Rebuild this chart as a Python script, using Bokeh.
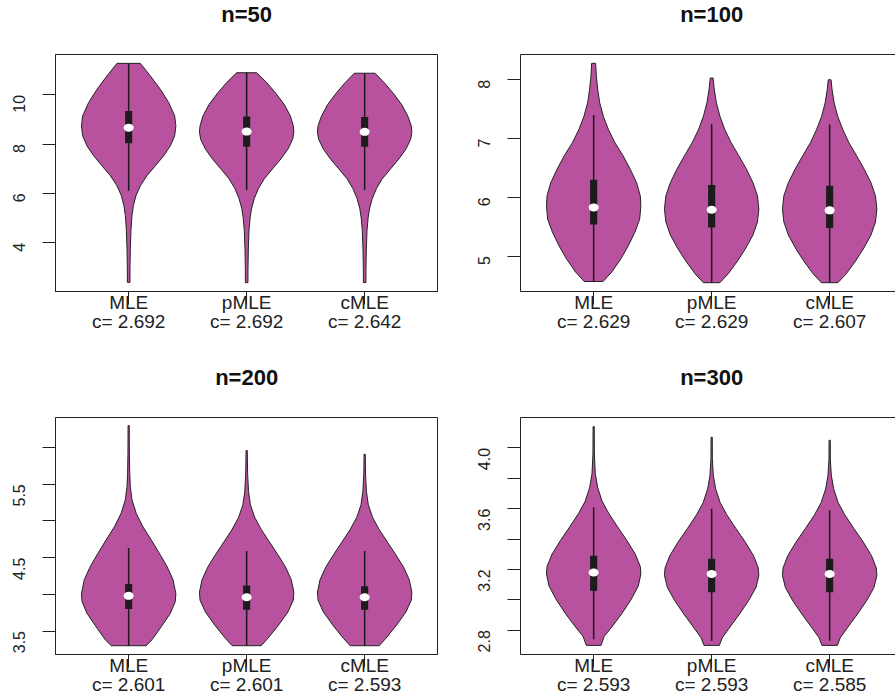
import math
from bokeh.plotting import figure
from bokeh.layouts import row, column
from bokeh.models import FixedTicker, Range1d, LinearAxis
from bokeh.core.properties import value
from bokeh.embed import file_html
from bokeh.resources import INLINE

# ---------------- data ----------------
methods = ["MLE", "pMLE", "cMLE"]
positions = [1, 2, 3]
titles = ["n=50", "n=100", "n=200", "n=300"]

c_n50 = [2.692, 2.692, 2.642]
c_n100 = [2.629, 2.629, 2.607]
c_n200 = [2.601, 2.601, 2.593]
c_n300 = [2.593, 2.593, 2.585]

# y ranges and ticks
ylim_n50 = (2.02, 11.64)
ylim_n100 = (4.40, 8.43)
ylim_n200 = (3.18, 6.41)
ylim_n300 = (2.64, 4.20)
ticks_n50 = [4, 6, 8, 10]
ticks_n100 = [5, 6, 7, 8]
ticks_n200 = [3.5, 4.0, 4.5, 5.0, 5.5, 6.0]
ticks_n300 = [2.8, 3.0, 3.2, 3.4, 3.6, 3.8, 4.0]
labels_n50 = ["4", "6", "8", "10"]
labels_n100 = ["5", "6", "7", "8"]
labels_n200 = ["3.5", "", "4.5", "", "5.5", ""]
labels_n300 = ["2.8", "", "3.2", "", "3.6", "", "4.0"]

# box statistics (lower whisker, q1, median, q3, upper whisker)
lo_n50 = [6.11, 6.14, 6.14]
q1_n50 = [8.04, 7.90, 7.90]
med_n50 = [8.67, 8.51, 8.50]
q3_n50 = [9.35, 9.12, 9.10]
hi_n50 = [11.28, 10.90, 10.88]

lo_n100 = [4.57, 4.55, 4.55]
q1_n100 = [5.54, 5.49, 5.48]
med_n100 = [5.83, 5.79, 5.78]
q3_n100 = [6.30, 6.21, 6.20]
hi_n100 = [7.40, 7.25, 7.24]

lo_n200 = [3.30, 3.30, 3.30]
q1_n200 = [3.80, 3.79, 3.79]
med_n200 = [3.98, 3.96, 3.96]
q3_n200 = [4.14, 4.12, 4.11]
hi_n200 = [4.63, 4.59, 4.59]

lo_n300 = [2.74, 2.73, 2.73]
q1_n300 = [3.06, 3.05, 3.05]
med_n300 = [3.18, 3.17, 3.17]
q3_n300 = [3.29, 3.27, 3.27]
hi_n300 = [3.61, 3.60, 3.59]

# violin density profiles: values (top to bottom) and half widths
n50_mle_y = [11.28, 10.77, 10.23, 9.69, 9.15, 8.74, 8.34, 7.93, 7.53, 7.12, 6.72, 6.31, 5.91, 5.50, 5.10, 4.56, 3.75, 2.93, 2.39]
n50_mle_w = [0.099, 0.184, 0.268, 0.339, 0.390, 0.400, 0.390, 0.353, 0.297, 0.226, 0.155, 0.099, 0.062, 0.040, 0.028, 0.020, 0.014, 0.011, 0.011]
n50_pmle_y = [10.90, 10.50, 10.05, 9.60, 9.15, 8.75, 8.50, 8.20, 7.80, 7.40, 7.00, 6.60, 6.20, 5.80, 5.40, 5.00, 4.50, 3.70, 2.90, 2.38]
n50_pmle_w = [0.085, 0.170, 0.250, 0.320, 0.370, 0.395, 0.400, 0.390, 0.350, 0.290, 0.220, 0.150, 0.100, 0.065, 0.042, 0.029, 0.020, 0.014, 0.011, 0.011]
n50_cmle_y = [10.88, 10.50, 10.05, 9.60, 9.15, 8.75, 8.50, 8.20, 7.80, 7.40, 7.00, 6.60, 6.20, 5.80, 5.40, 5.00, 4.50, 3.70, 2.90, 2.38]
n50_cmle_w = [0.088, 0.165, 0.245, 0.315, 0.365, 0.395, 0.400, 0.390, 0.350, 0.290, 0.220, 0.150, 0.100, 0.065, 0.042, 0.029, 0.020, 0.014, 0.011, 0.011]

n100_mle_y = [8.28, 8.06, 7.84, 7.61, 7.38, 7.16, 6.93, 6.71, 6.48, 6.25, 6.03, 5.86, 5.63, 5.41, 5.18, 4.96, 4.73, 4.57]
n100_mle_w = [0.017, 0.023, 0.034, 0.051, 0.082, 0.124, 0.180, 0.249, 0.310, 0.364, 0.395, 0.400, 0.390, 0.350, 0.294, 0.232, 0.153, 0.080]
n100_pmle_y = [8.03, 7.84, 7.61, 7.38, 7.16, 6.93, 6.71, 6.48, 6.25, 6.03, 5.80, 5.58, 5.36, 5.14, 4.92, 4.70, 4.55]
n100_pmle_w = [0.012, 0.022, 0.040, 0.070, 0.110, 0.165, 0.230, 0.295, 0.350, 0.388, 0.400, 0.388, 0.350, 0.290, 0.220, 0.140, 0.070]
n100_cmle_y = [8.00, 7.84, 7.61, 7.38, 7.16, 6.93, 6.71, 6.48, 6.25, 6.03, 5.80, 5.58, 5.36, 5.14, 4.92, 4.70, 4.55]
n100_cmle_w = [0.012, 0.020, 0.038, 0.068, 0.110, 0.163, 0.228, 0.293, 0.350, 0.388, 0.400, 0.388, 0.350, 0.290, 0.220, 0.140, 0.070]

n200_mle_y = [6.30, 5.92, 5.65, 5.47, 5.29, 5.10, 4.92, 4.74, 4.56, 4.38, 4.20, 4.01, 3.90, 3.74, 3.56, 3.38, 3.30]
n200_mle_w = [0.005, 0.006, 0.009, 0.014, 0.028, 0.065, 0.121, 0.192, 0.260, 0.325, 0.376, 0.400, 0.395, 0.353, 0.277, 0.198, 0.147]
n200_pmle_y = [5.96, 5.65, 5.40, 5.22, 5.05, 4.88, 4.71, 4.54, 4.37, 4.20, 4.03, 3.92, 3.76, 3.58, 3.40, 3.30]
n200_pmle_w = [0.005, 0.008, 0.016, 0.032, 0.068, 0.125, 0.195, 0.265, 0.330, 0.378, 0.400, 0.395, 0.350, 0.270, 0.180, 0.123]
n200_cmle_y = [5.91, 5.65, 5.40, 5.22, 5.05, 4.88, 4.71, 4.54, 4.37, 4.20, 4.03, 3.92, 3.76, 3.58, 3.40, 3.30]
n200_cmle_w = [0.005, 0.007, 0.015, 0.031, 0.067, 0.124, 0.194, 0.264, 0.330, 0.378, 0.400, 0.395, 0.350, 0.270, 0.180, 0.123]

n300_mle_y = [4.14, 3.96, 3.83, 3.74, 3.65, 3.57, 3.48, 3.39, 3.30, 3.22, 3.17, 3.09, 3.00, 2.91, 2.82, 2.76, 2.70]
n300_mle_w = [0.005, 0.006, 0.014, 0.034, 0.071, 0.127, 0.203, 0.282, 0.353, 0.395, 0.400, 0.378, 0.316, 0.240, 0.153, 0.090, 0.062]
n300_pmle_y = [4.07, 3.93, 3.82, 3.73, 3.64, 3.56, 3.47, 3.38, 3.29, 3.21, 3.16, 3.08, 2.99, 2.90, 2.81, 2.75, 2.70]
n300_pmle_w = [0.005, 0.006, 0.014, 0.034, 0.072, 0.128, 0.205, 0.285, 0.355, 0.395, 0.400, 0.375, 0.310, 0.230, 0.145, 0.090, 0.065]
n300_cmle_y = [4.05, 3.92, 3.82, 3.73, 3.64, 3.56, 3.47, 3.38, 3.29, 3.21, 3.16, 3.08, 2.99, 2.90, 2.81, 2.75, 2.70]
n300_cmle_w = [0.005, 0.006, 0.014, 0.034, 0.072, 0.128, 0.205, 0.285, 0.355, 0.395, 0.400, 0.375, 0.310, 0.230, 0.145, 0.090, 0.065]

# ---------------- style / layout ----------------
VIOLIN = "#B8529E"
DARK = "#222222"
FONT = "Liberation Sans"
PX_PER_UNIT = 118.0
X_START = 0.38
TITLE_H = 30
TITLE_CENTER_FROM_TOP = 14


def geometry(left):
    fw = 382 if left else 375
    mbl = 55 if left else 70
    mbr = 13 if left else 0
    return fw, mbl, mbr


def make_title(text, left):
    fw, mbl, mbr = geometry(left)
    x_end = X_START + fw / PX_PER_UNIT
    t = figure(width=mbl + fw + mbr, height=TITLE_H,
               x_range=Range1d(X_START, x_end), y_range=Range1d(0, TITLE_H),
               output_backend="svg", toolbar_location=None,
               x_axis_location=None, y_axis_location=None,
               min_border_left=mbl, min_border_right=mbr, min_border_top=0, min_border_bottom=0)
    t.grid.visible = False
    t.outline_line_color = None
    t.text(x=[positions[1]], y=[TITLE_H - TITLE_CENTER_FROM_TOP], text=[text],
           text_align="center", text_baseline="middle",
           text_font=value(FONT), text_font_size="22px", text_font_style="bold",
           text_color="#111111")
    return t


def make_panel(ylim, ticks, tick_labels, profiles, lo, q1, med, q3, hi, cvals, left, top):
    fw, mbl, mbr = geometry(left)
    if top:
        mbt, fh, mbb = 24, 237, 72
    else:
        mbt, fh, mbb = 24, 237, 44
    x_end = X_START + fw / PX_PER_UNIT
    p = figure(width=mbl + fw + mbr, height=mbt + fh + mbb,
               x_range=Range1d(X_START, x_end), y_range=Range1d(*ylim),
               output_backend="svg", toolbar_location=None,
               min_border_left=mbl, min_border_right=mbr,
               min_border_top=mbt, min_border_bottom=mbb)
    p.grid.visible = False
    p.background_fill_color = "white"
    p.border_fill_color = "white"

    # y axis
    ya = p.left[0]
    ya.ticker = FixedTicker(ticks=ticks)
    ya.major_label_overrides = {t: l for t, l in zip(ticks, tick_labels)}
    ya.major_label_orientation = math.pi / 2
    ya.major_tick_out = 13
    ya.major_tick_in = 0
    ya.minor_tick_line_color = None
    ya.major_label_standoff = 23
    ya.major_label_text_font = FONT
    ya.major_label_text_font_size = "16px"
    ya.major_label_text_color = DARK
    ya.axis_line_color = DARK
    ya.major_tick_line_color = DARK

    # x axis
    xa = p.below[0]
    xa.ticker = FixedTicker(ticks=positions)
    xa.major_label_overrides = {pos: f"{m}\nc= {c:.3f}" for pos, m, c in zip(positions, methods, cvals)}
    xa.major_tick_out = 13
    xa.major_tick_in = 0
    xa.minor_tick_line_color = None
    xa.major_label_standoff = -13
    xa.major_label_text_font = FONT
    xa.major_label_text_font_size = "19px"
    xa.major_label_text_line_height = 0.95
    xa.major_label_text_color = DARK
    xa.axis_line_color = DARK
    xa.major_tick_line_color = DARK

    if left:
        p.outline_line_color = DARK
        p.outline_line_width = 1
    else:
        p.outline_line_color = None
        top_axis = LinearAxis(ticker=FixedTicker(ticks=[]), axis_line_color=DARK,
                              major_tick_line_color=None, minor_tick_line_color=None,
                              major_label_text_font_size="0px")
        p.add_layout(top_axis, "above")

    # violins
    for pos, (ys, ws) in zip(positions, profiles):
        xs = [pos + w for w in ws] + [pos - w for w in reversed(ws)]
        yy = list(ys) + list(reversed(ys))
        p.patch(xs, yy, fill_color=VIOLIN, line_color=DARK, line_width=1)

    p.segment(x0=positions, y0=lo, x1=positions, y1=hi, line_color="#1a1a1a", line_width=1.5)
    p.vbar(x=positions, width=0.06, bottom=q1, top=q3, fill_color="#1c1c1c", line_color=None)
    p.ellipse(x=positions, y=med, width=10, height=8, width_units="screen",
              height_units="screen", fill_color="white", line_color=None)
    return p


t50 = make_title(titles[0], True)
t100 = make_title(titles[1], False)
t200 = make_title(titles[2], True)
t300 = make_title(titles[3], False)

p50 = make_panel(ylim_n50, ticks_n50, labels_n50,
                 [(n50_mle_y, n50_mle_w), (n50_pmle_y, n50_pmle_w), (n50_cmle_y, n50_cmle_w)],
                 lo_n50, q1_n50, med_n50, q3_n50, hi_n50, c_n50, True, True)
p100 = make_panel(ylim_n100, ticks_n100, labels_n100,
                  [(n100_mle_y, n100_mle_w), (n100_pmle_y, n100_pmle_w), (n100_cmle_y, n100_cmle_w)],
                  lo_n100, q1_n100, med_n100, q3_n100, hi_n100, c_n100, False, True)
p200 = make_panel(ylim_n200, ticks_n200, labels_n200,
                  [(n200_mle_y, n200_mle_w), (n200_pmle_y, n200_pmle_w), (n200_cmle_y, n200_cmle_w)],
                  lo_n200, q1_n200, med_n200, q3_n200, hi_n200, c_n200, True, False)
p300 = make_panel(ylim_n300, ticks_n300, labels_n300,
                  [(n300_mle_y, n300_mle_w), (n300_pmle_y, n300_pmle_w), (n300_cmle_y, n300_cmle_w)],
                  lo_n300, q1_n300, med_n300, q3_n300, hi_n300, c_n300, False, False)

layout = column(row(t50, t100, spacing=0), row(p50, p100, spacing=0),
                row(t200, t300, spacing=0), row(p200, p300, spacing=0), spacing=0)

open("out.html", "w").write(file_html(layout, INLINE))
